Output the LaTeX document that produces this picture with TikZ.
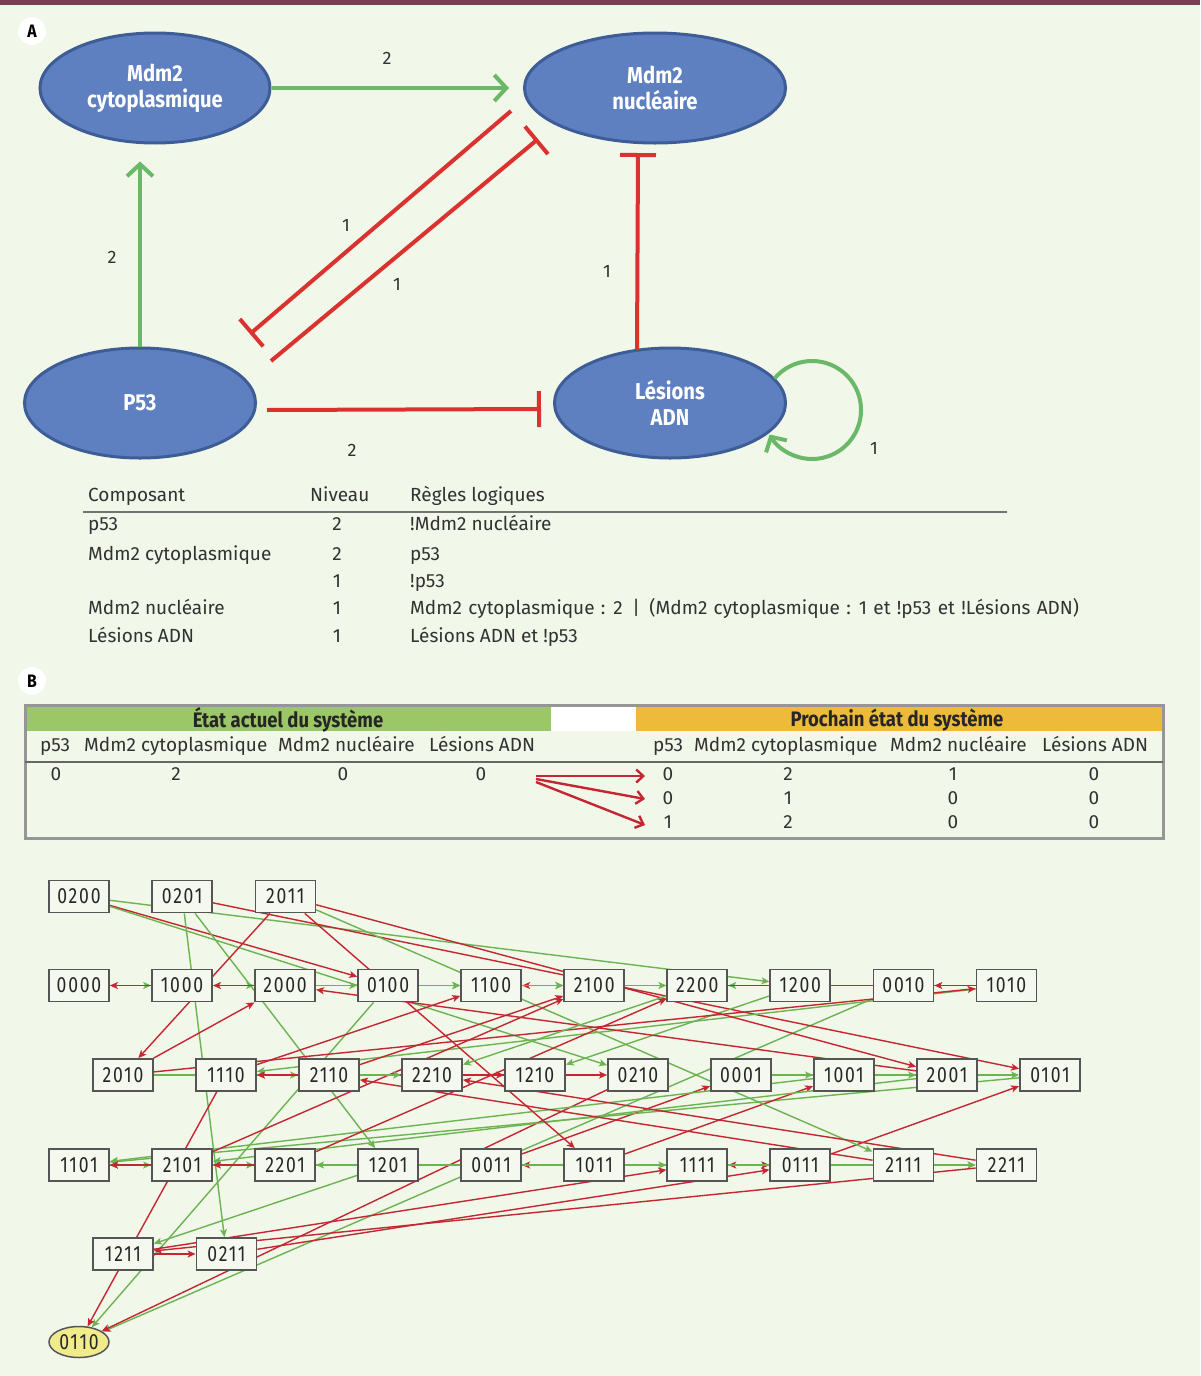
\documentclass[tikz,border=0pt]{standalone}
\usepackage{fontspec}
\setmainfont{Fira Sans}
\newfontfamily\condbf{Fira Sans}[FakeStretch=0.88]
\newfontfamily\digfont{Fira Sans}[FakeStretch=0.8,LetterSpace=8]
\usetikzlibrary{shapes.geometric,arrows.meta}
\definecolor{bgc}{RGB}{241,247,233}
\definecolor{topbar}{RGB}{122,62,82}
\definecolor{ellfill}{RGB}{94,128,193}
\definecolor{ellborder}{RGB}{62,92,150}
\definecolor{agreen}{RGB}{106,184,104}
\definecolor{ared}{RGB}{218,50,46}
\definecolor{txtc}{RGB}{50,50,50}
\definecolor{ggreen}{RGB}{108,180,82}
\definecolor{gred}{RGB}{196,38,50}
\definecolor{boxfill}{RGB}{244,248,238}
\definecolor{boxdraw}{RGB}{85,85,85}
\definecolor{hgreen}{RGB}{155,199,102}
\definecolor{horange}{RGB}{238,186,58}
\definecolor{boxgray}{RGB}{150,150,150}
\definecolor{stablefill}{RGB}{240,236,140}
\pgfdeclarelayer{bglayer}
\pgfdeclarelayer{edgelayer}
\pgfsetlayers{bglayer,edgelayer,main}
\begin{document}
\begin{tikzpicture}[x=1pt,y=-1pt,
  ell/.style={ellipse, draw=ellborder, fill=ellfill, line width=3pt, minimum width=230pt, minimum height=110pt, inner sep=0pt, text=white, font=\condbf\bfseries\fontsize{23}{26}\selectfont, align=center},
  gact/.style={draw=agreen, line width=4pt, -{Straight Barb[length=12pt,width=26pt]}},
  rinh/.style={draw=ared, line width=4pt, -{Bar[width=36pt]}},
  elab/.style={font=\fontsize{18}{20}\selectfont, text=txtc, inner sep=0pt},
  txt/.style={font=\fontsize{19}{21}\selectfont, text=txtc, inner sep=0pt, anchor=west, text height=13pt, text depth=4pt},
  ctxt/.style={font=\fontsize{19}{21}\selectfont, text=txtc, inner sep=0pt, text height=13pt, text depth=4pt},
  htxt/.style={font=\condbf\bfseries\fontsize{21}{22}\selectfont, text=black!85, inner sep=0pt},
  panel/.style={circle, fill=white, minimum size=28pt, inner sep=0pt, font=\condbf\bfseries\fontsize{18}{18}\selectfont},
  stbox/.style={rectangle, draw=boxdraw, fill=boxfill, line width=1.8pt, minimum width=60pt, minimum height=32pt, inner sep=0pt, font=\digfont\fontsize{22}{22}\selectfont, text=black!85},
  stell/.style={ellipse, draw=boxdraw, fill=stablefill, line width=1.5pt, minimum width=60pt, minimum height=31pt, inner sep=0pt, font=\digfont\fontsize{22}{22}\selectfont, text=black!85},
  incedge/.style={draw=ggreen, line width=1.4pt, -{Stealth[length=8pt,width=7pt,inset=2pt]}},
  decedge/.style={draw=gred, line width=1.4pt, -{Stealth[length=8pt,width=7pt,inset=2pt]}},
  barrow/.style={draw=gred, line width=2.4pt, -{Straight Barb[length=7pt,width=13pt]}}
]
\useasboundingbox (0,0) rectangle (1200,1376);
\begin{pgfonlayer}{bglayer}
\fill[bgc] (0,0) rectangle (1200,1376);
\fill[topbar] (0,0) rectangle (1200,5);
\end{pgfonlayer}

% ---------------- Panel A ----------------
\node[panel] (lA) at (32,31) {A};
\node[ell] (cyto) at (155,88) {Mdm2\\cytoplasmique};
\node[ell, minimum width=261pt] (nuc) at (655,88) {Mdm2\\nucléaire};
\node[ell, minimum width=231pt] (p53) at (140,403) {P53};
\node[ell, minimum width=231pt] (les) at (670,403) {Lésions\\ADN};

\draw[gact, shorten >=14pt] (cyto) -- (nuc);
\draw[gact, shorten >=17pt] (p53.north) -- (p53.north |- cyto.south);
\coordinate (d1s) at (511,111);
\coordinate (d1e) at (250,334);
\draw[rinh] (d1s) -- (d1e);
\coordinate (d2s) at (271,361);
\coordinate (d2e) at (538,139);
\draw[rinh] (d2s) -- (d2e);
\coordinate (hs) at (267,410);
\coordinate (he) at (541,409);
\draw[rinh] (hs) -- (he);
\coordinate (vs) at (637,350);
\coordinate (ve) at (638,153);
\draw[rinh] (vs) -- (ve);
\coordinate (ls) at (774.5,378.5);
\draw[draw=agreen, line width=4pt, -{Straight Barb[length=11pt,width=24pt]}] (ls) arc[start angle=-140, end angle=150, radius=49];

\node[elab] (n1) at (387,58) {2};
\node[elab] (n2) at (112,257) {2};
\node[elab] (n3) at (346,225) {1};
\node[elab] (n4) at (397,284) {1};
\node[elab] (n5) at (607,271) {1};
\node[elab] (n6) at (352,450) {2};
\node[elab] (n7) at (874,448) {1};

% table A
\node[txt] (h1) at (88,497) {Composant};
\node[txt] (h2) at (310,497) {Niveau};
\node[txt] (h3) at (410,497) {Règles logiques};
\draw[draw=black!55, line width=2pt] (83,512) -- (1007,512);
\node[txt] (r1a) at (88,526) {p53};
\node[ctxt] (r1b) at (337,526) {2};
\node[txt] (r1c) at (410,526) {!Mdm2 nucléaire};
\node[txt] (r2a) at (88,556) {Mdm2 cytoplasmique};
\node[ctxt] (r2b) at (337,556) {2};
\node[txt] (r2c) at (410,556) {p53};
\node[ctxt] (r3b) at (337,583) {1};
\node[txt] (r3c) at (410,583) {!p53};
\node[txt] (r4a) at (88,610) {Mdm2 nucléaire};
\node[ctxt] (r4b) at (337,610) {1};
\node[txt] (r4c) at (410,610) {\spaceskip=6.3pt Mdm2 cytoplasmique : 2 \,|\, (Mdm2 cytoplasmique : 1 et !p53 et !Lésions ADN)};
\node[txt] (r5a) at (88,638) {Lésions ADN};
\node[ctxt] (r5b) at (337,638) {1};
\node[txt] (r5c) at (410,638) {Lésions ADN et !p53};

% ---------------- Panel B ----------------
\node[panel] (lB) at (32,681) {B};
\fill[hgreen] (26,707) rectangle (551,731);
\fill[white] (551,707) rectangle (636,731);
\fill[horange] (636,707) rectangle (1162,731);
\draw[boxgray, line width=3pt] (25,705) rectangle (1163,838);
\draw[black!60, line width=2pt] (25,762) -- (1163,762);
\node[htxt] (bh1) at (288,720) {État actuel du système};
\node[htxt] (bh2) at (897,720) {Prochain état du système};
\node[txt] (bc1a) at (40,747) {p53};
\node[txt] (bc1b) at (84,747) {Mdm2 cytoplasmique};
\node[txt] (bc1c) at (278,747) {Mdm2 nucléaire};
\node[txt] (bc1d) at (429,747) {Lésions ADN};
\node[txt] (bc2a) at (653,747) {p53};
\node[txt] (bc2b) at (694,747) {Mdm2 cytoplasmique};
\node[txt] (bc2c) at (890,747) {Mdm2 nucléaire};
\node[txt] (bc2d) at (1042,747) {Lésions ADN};
\node[ctxt] (v01) at (56,776) {0};
\node[ctxt] (v02) at (176,776) {2};
\node[ctxt] (v03) at (343,776) {0};
\node[ctxt] (v04) at (481,776) {0};
\foreach \r/\yy/\va/\vb/\vc/\vd in {1/776/0/2/1/0, 2/800/0/1/0/0, 3/824/1/2/0/0}{
  \node[ctxt] (w\r a) at (668,\yy) {\va};
  \node[ctxt] (w\r b) at (788,\yy) {\vb};
  \node[ctxt] (w\r c) at (953,\yy) {\vc};
  \node[ctxt] (w\r d) at (1094,\yy) {\vd};
}
\coordinate (bs1) at (536,776);
\coordinate (bs2) at (536,779);
\coordinate (bs3) at (536,782);
\coordinate (bt1) at (645,776);
\coordinate (bt2) at (645,799);
\coordinate (bt3) at (645,825);
\draw[barrow] (bs1) -- (bt1);
\draw[barrow] (bs2) -- (bt2);
\draw[barrow] (bs3) -- (bt3);

% ---------------- State transition graph ----------------
\foreach \lab [count=\i from 0] in {0200,0201,2011}
  \node[stbox] (s\lab) at ({79+103.2*\i},896.5) {\lab};
\foreach \lab [count=\i from 0] in {0000,1000,2000,0100,1100,2100,2200,1200,0010,1010}
  \node[stbox] (s\lab) at ({79+103.05*\i},985.5) {\lab};
\foreach \lab [count=\i from 0] in {2010,1110,2110,2210,1210,0210,0001,1001,2001,0101}
  \node[stbox] (s\lab) at ({123+103*\i},1075) {\lab};
\foreach \lab [count=\i from 0] in {1101,2101,2201,1201,0011,1011,1111,0111,2111,2211}
  \node[stbox] (s\lab) at ({79+103.05*\i},1165) {\lab};
\foreach \lab [count=\i from 0] in {1211,0211}
  \node[stbox] (s\lab) at ({123+103.5*\i},1254) {\lab};
\node[stell] (s0110) at (79,1342) {0110};

\begin{pgfonlayer}{edgelayer}
\foreach \pa in {0,1,2}{%
 \foreach \pb in {0,1,2}{%
  \foreach \pc in {0,1}{%
   \foreach \pd in {0,1}{%
    \ifnum\pc=0
      \ifnum\pa<2 \pgfmathtruncatemacro\nx{\pa+1}\draw[incedge] (s\pa\pb\pc\pd) -- (s\nx\pb\pc\pd);\fi
    \else
      \ifnum\pa>0 \pgfmathtruncatemacro\nx{\pa-1}\draw[decedge] (s\pa\pb\pc\pd) -- (s\nx\pb\pc\pd);\fi
    \fi
    \ifnum\pa=2
      \ifnum\pb<2 \pgfmathtruncatemacro\nx{\pb+1}\draw[incedge] (s\pa\pb\pc\pd) -- (s\pa\nx\pc\pd);\fi
    \else
      \ifnum\pb=0 \draw[incedge] (s\pa\pb\pc\pd) -- (s\pa1\pc\pd);\fi
      \ifnum\pb=2 \draw[decedge] (s\pa\pb\pc\pd) -- (s\pa1\pc\pd);\fi
    \fi
    \def\tc{0}%
    \ifnum\pb=2 \def\tc{1}\fi
    \ifnum\pb=1 \ifnum\pa=0 \ifnum\pd=0 \def\tc{1}\fi\fi\fi
    \ifnum\pc<\tc\relax \draw[incedge] (s\pa\pb\pc\pd) -- (s\pa\pb1\pd);\fi
    \ifnum\pc>\tc\relax \draw[decedge] (s\pa\pb\pc\pd) -- (s\pa\pb0\pd);\fi
    \ifnum\pd=1 \ifnum\pa=2 \draw[decedge] (s\pa\pb\pc\pd) -- (s\pa\pb\pc0);\fi\fi
   }}}}
\end{pgfonlayer}
\end{tikzpicture}
\end{document}
